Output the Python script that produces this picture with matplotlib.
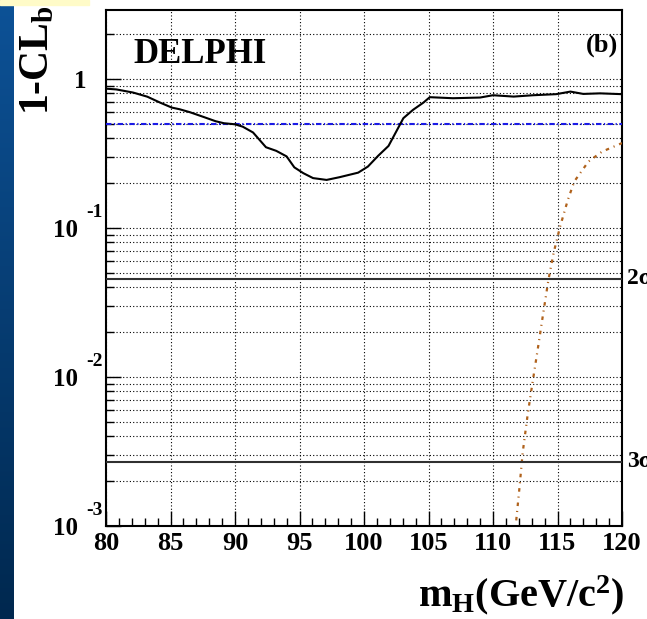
import numpy as np
import matplotlib
matplotlib.use("Agg")
import matplotlib.pyplot as plt
from matplotlib.ticker import FixedLocator, NullFormatter

plt.rcParams['font.family'] = ['Liberation Serif', 'DejaVu Serif']
plt.rcParams['font.weight'] = 'bold'
plt.rcParams['mathtext.fontset'] = 'custom'
plt.rcParams['mathtext.rm'] = 'Liberation Serif:bold'
plt.rcParams['mathtext.bf'] = 'Liberation Serif:bold'
plt.rcParams['mathtext.it'] = 'Liberation Serif:bold'

# observed 1-CL_b vs Higgs mass
mh_obs = [80.0, 80.8, 82.1, 83.2, 84.2, 85.1, 85.7, 86.5, 87.5, 88.5, 89.15, 90.0,
          90.6, 91.4, 92.4, 93.2, 94.0, 94.6, 95.3, 96.05, 97.1, 98.1, 99.55, 100.3,
          101.1, 101.9, 102.7, 103.05, 103.8, 104.6, 105.1, 106.9, 109.0, 110.0,
          111.6, 113.1, 114.9, 116.0, 117.0, 118.3, 120.0]
clb_obs = [0.86, 0.85, 0.81, 0.76, 0.693, 0.642, 0.626, 0.598, 0.558, 0.52, 0.504, 0.496,
           0.478, 0.437, 0.348, 0.329, 0.302, 0.255, 0.233, 0.216, 0.21, 0.219, 0.235, 0.258,
           0.305, 0.355, 0.478, 0.545, 0.62, 0.693, 0.754, 0.742, 0.75, 0.777,
           0.761, 0.777, 0.79, 0.822, 0.793, 0.80, 0.79]

# expected for signal+background
mh_sb = [111.8, 112.05, 112.3, 112.7, 113.1, 113.5, 113.9, 114.3, 114.7, 115.2,
         115.8, 116.3, 117.4, 118.45, 120.0]
clb_sb = [0.00109, 0.0018, 0.0031, 0.0057, 0.0096, 0.016, 0.027, 0.045, 0.068, 0.102,
          0.154, 0.205, 0.279, 0.325, 0.371]

median_bkg = 0.5
sigma_levels = [0.0455, 0.0027]
sigma_labels = ['2σ', '3σ']

W, H = 647, 619
fig = plt.figure(figsize=(W / 100, H / 100), dpi=100)

# slide background bits on the left
bg = fig.add_axes([0, 0, 14 / W, 1])
grad = np.linspace(0, 1, 256).reshape(-1, 1)
cmap = matplotlib.colors.LinearSegmentedColormap.from_list('sl', ['#0d5297', '#00284f'])
bg.imshow(grad, aspect='auto', cmap=cmap, extent=[0, 1, 0, 1])
bg.axis('off')
fig.patches.append(plt.Rectangle((0, 1 - 5 / H), 89 / W, 5 / H, transform=fig.transFigure,
                                 color='#fffbc8', zorder=0))

ax = fig.add_axes([106 / W, 1 - 526 / H, 516 / W, 516 / H])
ax.set_xlim(80, 120)
ax.set_ylim(1e-3, 2.9)
ax.set_yscale('log')

ax.plot(mh_obs, clb_obs, color='black', lw=1.5, zorder=5)
ax.plot(mh_sb, clb_sb, color='#b0621c', lw=1.6, dashes=(1.6, 2.2, 0.5, 2.2), zorder=4)
ax.axhline(median_bkg, color='#1a1ae6', lw=1.5, dashes=(2.6, 1.2, 0.6, 1.2), zorder=4)
for lev, lab in zip(sigma_levels, sigma_labels):
    ax.axhline(lev, color='#303030', lw=1.5, zorder=4)
    ax.text(1.01, lev, lab, transform=ax.get_yaxis_transform(), fontsize=17,
            fontweight='bold', va='center', ha='left', clip_on=False)

# ticks and grid
ax.xaxis.set_major_locator(FixedLocator(np.arange(80, 121, 5)))
ax.xaxis.set_minor_locator(FixedLocator(np.arange(80, 121, 1)))
ax.set_xticklabels([str(v) for v in range(80, 121, 5)])
ax.tick_params(axis='x', which='major', direction='in', length=11, width=1, labelsize=19, pad=4)
ax.tick_params(axis='x', which='minor', direction='in', length=6, width=1)

yticks = [1e-3, 1e-2, 1e-1, 1]
ax.yaxis.set_major_locator(FixedLocator(yticks))
ax.yaxis.set_minor_locator(matplotlib.ticker.LogLocator(base=10, subs=np.arange(2, 10), numticks=20))
ax.yaxis.set_minor_formatter(NullFormatter())
ax.set_yticklabels(['10', '10', '10', '1'])
ax.tick_params(axis='y', which='major', direction='in', length=11, width=1, labelsize=18, pad=20)
ax.tick_params(axis='y', which='minor', direction='in', length=6, width=1)
for lab in ax.get_yticklabels():
    if lab.get_text() == '1':
        lab.set_x(0.016)
for exp_, v in zip(['-3', '-2', '-1'], yticks[:3]):
    ax.text(-0.006, v * 1.12, exp_, transform=ax.get_yaxis_transform(), fontsize=14,
            fontweight='bold', ha='right', va='bottom')

ax.grid(True, which='major', axis='x', color='black', lw=0.8, ls=(0, (1, 2)))
ax.grid(True, which='both', axis='y', color='black', lw=0.8, ls=(0, (1, 2)))
for s in ax.spines.values():
    s.set_linewidth(1.5)

ax.text(0.053, 0.945, 'DELPHI', transform=ax.transAxes, fontsize=25, fontweight='bold',
        va='top', ha='left')
ax.text(0.992, 0.955, '(b)', transform=ax.transAxes, fontsize=19, fontweight='bold',
        va='top', ha='right')

fig.text(38 / W, 1 - 5 / H, r'1-CL$_\mathrm{b}$', rotation=90, fontsize=30,
         fontweight='bold', ha='center', va='top')
fig.text(624 / W, 1 - 617 / H, r'm$_\mathrm{H}$(GeV/c$^\mathrm{2}$)', fontsize=29,
         fontweight='bold', ha='right', va='bottom')

fig.savefig('out.png', dpi=100)
